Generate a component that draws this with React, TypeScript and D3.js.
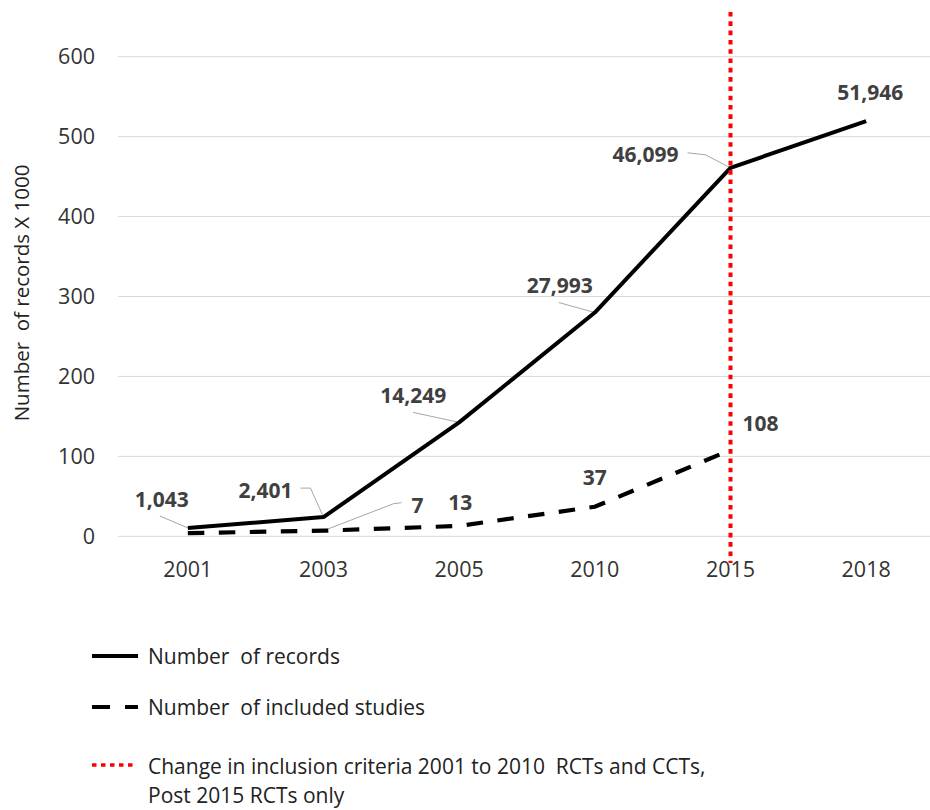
import React from "react";
import * as d3 from "d3";

const years = ["2001", "2003", "2005", "2010", "2015", "2018"];
// plotted as hundreds of records (axis titled "X 1000" in the source)
const recordsPlotted = [10.43, 24.01, 142.49, 279.93, 460.99, 519.46];
const recordsLabels = ["1,043", "2,401", "14,249", "27,993", "46,099", "51,946"];
const studies = [4, 7, 13, 37, 108];
const studiesYears = ["2001", "2003", "2005", "2010", "2015"];
const studiesLabels: (string | null)[] = [null, "7", "13", "37", "108"];
const yTicks = [0, 100, 200, 300, 400, 500, 600];
const changeYear = "2015";
const legendTexts = [
  "Number  of records",
  "Number  of included studies",
  "Change in inclusion criteria 2001 to 2010  RCTs and CCTs,",
  "Post 2015 RCTs only",
];

// layout: label centre offsets from their point, leader-line polylines (relative to point)
const recLabelOff = [[-26, -28], [-58, -27], [-46, -27], [-35, -27], [-85, -13], [4, -29]];
const recLeaders: (number[][] | null)[] = [
  [[-28, -12]],
  [[-23, -29], [-13, -29]],
  [[-46, -10]],
  [[-36, -10]],
  [[-43, -15], [-25, -13]],
  null,
];
const stLabelOff = [[0, 0], [94, -25], [1, -23], [0, -29], [30, -26]];
const stLeaders: (number[][] | null)[] = [null, [[78, -28], [70, -27]], null, null, null];

const FONT = "'Open Sans', 'Noto Sans', sans-serif";
const FS_TICK = 21.5;
const FS_LAB = 21;
const FS_LEG = 21;
const base = (c: number, fs: number) => c + fs * 0.357;

export default function App() {
  const x = d3.scalePoint<string>().domain(years).range([120, 934]).padding(0.5);
  const y = d3.scaleLinear().domain([0, 600]).range([536.3, 56.7]);
  const line = d3
    .line<[number, number]>()
    .x((d) => d[0])
    .y((d) => d[1]);
  const recPts: [number, number][] = years.map((yr, i) => [x(yr)!, y(recordsPlotted[i])]);
  const stPts: [number, number][] = studiesYears.map((yr, i) => [x(yr)!, y(studies[i])]);

  const leader = (p: [number, number], rel: number[][]) => {
    const pts: [number, number][] = rel.map((r) => [p[0] + r[0], p[1] + r[1]]);
    pts.push(p);
    return line(pts)!;
  };
  const pre = { whiteSpace: "pre" as const };

  return (
    <svg
      width={930}
      height={810}
      style={{ position: "absolute", left: 0, top: 0, background: "#fff" }}
      fontFamily={FONT}
    >
      {/* gridlines */}
      {yTicks.map((t) => (
        <line key={t} x1={118} x2={934} y1={y(t)} y2={y(t)} stroke="#d9d9d9" strokeWidth={1} />
      ))}
      {/* y tick labels */}
      {yTicks.map((t) => (
        <text key={t} x={95} y={base(y(t), FS_TICK)} textAnchor="end" fontSize={FS_TICK} fill="#333">
          {t}
        </text>
      ))}
      {/* y title */}
      <text
        transform={`translate(${22 + FS_LEG * 0.357},293) rotate(-90)`}
        textAnchor="middle"
        fontSize={FS_LEG - 0.5}
        fill="#222"
        style={pre}
      >
        {"Number  of records X 1000"}
      </text>
      {/* x tick labels */}
      {years.map((yr) => (
        <text key={yr} x={x(yr)} y={base(569, FS_TICK)} textAnchor="middle" fontSize={FS_TICK} fill="#333">
          {yr}
        </text>
      ))}
      {/* leader lines */}
      {recLeaders.map((l, i) =>
        l ? <path key={"rl" + i} d={leader(recPts[i], l)} fill="none" stroke="#a6a6a6" strokeWidth={1} /> : null
      )}
      {stLeaders.map((l, i) =>
        l ? <path key={"sl" + i} d={leader(stPts[i], l)} fill="none" stroke="#a6a6a6" strokeWidth={1} /> : null
      )}
      {/* series */}
      <path d={line(stPts)!} fill="none" stroke="#000" strokeWidth={4.2} strokeDasharray="16.5,14.5" />
      <path d={line(recPts)!} fill="none" stroke="#000" strokeWidth={4} strokeLinejoin="round" />
      {/* change line */}
      <line
        x1={x(changeYear)}
        x2={x(changeYear)}
        y1={12}
        y2={563}
        stroke="#ff0000"
        strokeWidth={4}
        strokeDasharray="4.6,4.7"
      />
      {/* data labels */}
      {recordsLabels.map((s, i) => (
        <text
          key={"r" + i}
          x={recPts[i][0] + recLabelOff[i][0]}
          y={base(recPts[i][1] + recLabelOff[i][1], FS_LAB)}
          textAnchor="middle"
          fontSize={FS_LAB}
          fontWeight="bold"
          fill="#404040"
        >
          {s}
        </text>
      ))}
      {studiesLabels.map((s, i) =>
        s ? (
          <text
            key={"s" + i}
            x={stPts[i][0] + stLabelOff[i][0]}
            y={base(stPts[i][1] + stLabelOff[i][1], FS_LAB)}
            textAnchor="middle"
            fontSize={FS_LAB}
            fontWeight="bold"
            fill="#404040"
          >
            {s}
          </text>
        ) : null
      )}
      {/* legend */}
      <line x1={92} x2={138} y1={656} y2={656} stroke="#000" strokeWidth={4} />
      <text x={148} y={base(657, FS_LEG)} fontSize={FS_LEG} fill="#222" style={pre}>
        {legendTexts[0]}
      </text>
      <line x1={92} x2={138} y1={707} y2={707} stroke="#000" strokeWidth={4.2} strokeDasharray="18,15" />
      <text x={148} y={base(708, FS_LEG)} fontSize={FS_LEG} fill="#222" style={pre}>
        {legendTexts[1]}
      </text>
      <line x1={92} x2={136} y1={765} y2={765} stroke="#ff0000" strokeWidth={3.5} strokeDasharray="4.5,4.5" />
      <text x={148} y={base(767, FS_LEG)} fontSize={FS_LEG} fill="#222" style={pre}>
        {legendTexts[2]}
      </text>
      <text x={148} y={base(796, FS_LEG)} fontSize={FS_LEG} fill="#222" style={pre}>
        {legendTexts[3]}
      </text>
    </svg>
  );
}
